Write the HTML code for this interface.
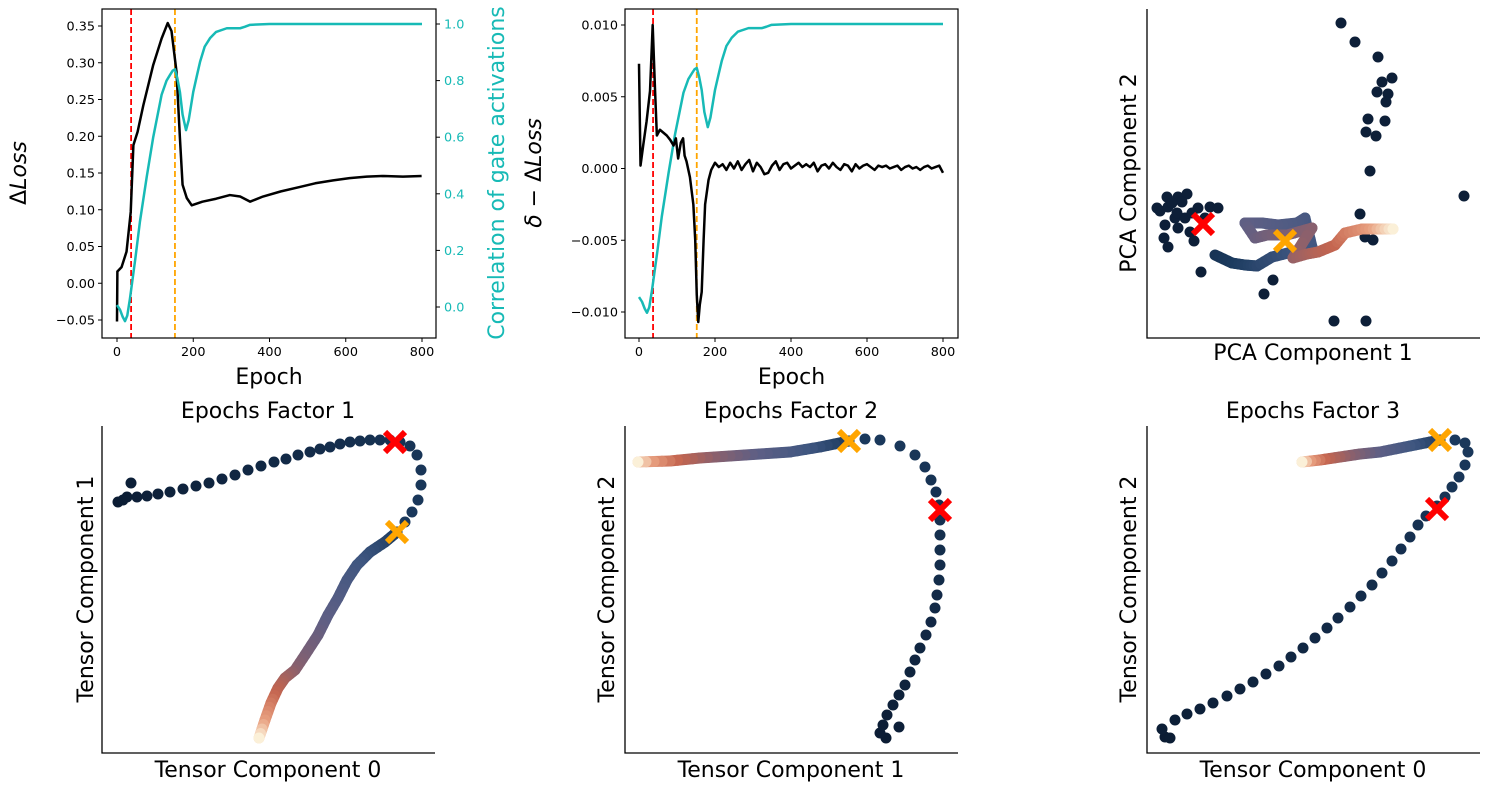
<!DOCTYPE html>
<html><head><meta charset="utf-8"><style>
html,body{margin:0;padding:0;background:#fff;}
svg{display:block;font-family:"DejaVu Sans","Liberation Sans",sans-serif;}
</style></head><body>
<svg id="fig" width="1490" height="789" viewBox="0 0 1490 789" xmlns="http://www.w3.org/2000/svg"></svg>
<script>
// ---------- Panel 1 data ----------
const lossEpochs=[0,1,12,25,36,43,54,69,95,117,133,143,156,165,172,183,196,224,260,296,323,349,383,430,480,520,567,610,655,700,750,799];
const lossValues=[-0.052,0.016,0.022,0.043,0.097,0.188,0.206,0.242,0.297,0.333,0.354,0.343,0.288,0.198,0.134,0.116,0.106,0.111,0.115,0.120,0.118,0.111,0.118,0.125,0.131,0.136,0.140,0.143,0.145,0.146,0.145,0.146];
const corrEpochs=[0,8,15,21,27,34,48,60,78,95,117,130,139,146,152,158,165,172,181,188,200,210,218,230,244,260,288,323,335,349,400,800];
const corrValues=[0.007,-0.01,-0.035,-0.05,-0.03,0.03,0.17,0.30,0.46,0.60,0.75,0.80,0.82,0.835,0.84,0.81,0.76,0.68,0.625,0.66,0.76,0.82,0.867,0.92,0.95,0.972,0.985,0.985,0.99,0.997,1.0,1.0];
const lossTicks=[-0.05,0.00,0.05,0.10,0.15,0.20,0.25,0.30,0.35];
const lossTickLabels=["\u22120.05","0.00","0.05","0.10","0.15","0.20","0.25","0.30","0.35"];
const corrTicks=[0.0,0.2,0.4,0.6,0.8,1.0];
const epochTicks=[0,200,400,600,800];
const redEpoch=37, orangeEpoch=152;
// ---------- Panel 2 data ----------
const deltaEpochsHead=[0,4,11,20,29,36,42,47,55,64,73,82,91,97,103,110,116,120,125,134,143,148,152,156,160,165,170,174,183,190,200];
const deltaValuesHead=[0.0073,0.0002,0.0016,0.0033,0.0054,0.0100,0.0056,0.0023,0.0027,0.0025,0.0023,0.0020,0.0016,0.0021,0.0007,0.0018,0.0021,0.0009,0.0005,-0.0006,-0.0025,-0.0050,-0.0088,-0.0107,-0.0095,-0.0086,-0.0050,-0.0025,-0.0008,-0.0001,0.0004];
const deltaValuesTail=[0.0001,0.0003,-0.0001,0.0004,0.0000,0.0005,-0.0001,0.0003,0.0006,-0.0002,0.0004,0.0001,-0.0004,-0.0003,0.0002,0.0005,-0.0001,0.0003,0.0004,0.0000,0.0002,0.0004,0.0001,0.0003,0.0001,0.0004,-0.0002,0.0002,0.0003,0.0000,0.0004,0.0001,-0.0001,0.0003,0.0002,-0.0002,0.0003,0.0000,0.0002,0.0003,0.0001,-0.0001,0.0002,0.0001,0.0002,0.0000,0.0001,0.0002,-0.0001,0.0001,0.0002,0.0000,0.0001,-0.0001,0.0001,0.0002,0.0000,0.0001,0.0002,-0.0003];
const deltaTicks=[-0.010,-0.005,0.000,0.005,0.010];
const deltaTickLabels=["\u22120.010","\u22120.005","0.000","0.005","0.010"];
// ---------- PCA data ----------
const pcaOutX=[194,208,231,245,235,230,241,239,221,238,219,229,223,317,213,218,226,54,126,117,187,219,20,31,40,13,21,35,51,63,71,28,38,18,31,43,17,21,47,58,25,45,10,30];
const pcaOutY=[315,296,281,260,256,246,244,236,219,217,206,202,167,142,124,101,98,66,58,44,17,17,141,141,144,127,131,136,130,131,130,120,120,113,110,106,100,91,97,120,135,125,130,125];
const pcaTrajX=[68,85,98,110,125,145,165,158,150,131,115,98,108,120,140,165,146,160,171,188,198,215,230,246];
const pcaTrajY=[83,75,73,72,81,86,91,120,115,113,115,115,100,103,103,110,80,84,86,93,105,109,109,109];
const pcaRed=[56,114], pcaOrange=[138,97];
// ---------- Factor 1 ----------
const f1X=[16,21,25,29,35,45,56,68,81,94,107,120,133,146,159,172,184,196,208,218,228,238,248,258,268,278,288,298,308,315,319,319,316,310,303,295,283,268,255,245,236,226,216,203,193,183,176,169,163,157];
const f1Y=[251,253,256,270,256,257,259,261,264,267,270,274,278,283,287,291,294,298,301,304,306,309,311,312,313,313,313,311,307,298,283,268,253,241,231,221,211,201,188,173,155,138,118,98,83,75,65,50,33,15];
const f1Split=35, f1Red=[293,311], f1Orange=[295,221];
// ---------- Factor 2 ----------
const f2X=[261,255,258,262,268,274,280,285,290,295,301,306,310,312,314,315,315,315,315,314,311,306,300,290,275,255,240,224,195,165,135,105,75,45,13];
const f2Y=[15,20,28,38,48,58,68,81,93,105,118,131,145,158,173,188,203,218,233,248,261,273,286,298,307,313,314,312,306,301,299,297,295,292,291];
const f2Split=27, f2Extra=[274,26], f2Red=[315,243], f2Orange=[224,312];
// ---------- Factor 3 ----------
const f3X=[18,23,15,28,40,53,66,80,93,106,119,132,144,156,168,180,191,203,214,225,235,245,254,263,271,279,290,298,305,312,318,321,318,308,293,273,253,233,213,193,173,155];
const f3Y=[16,15,24,33,39,44,50,57,64,71,79,87,96,105,115,125,135,146,157,168,180,192,204,216,228,237,247,256,266,276,288,301,310,313,313,309,305,301,299,296,293,291];
const f3Split=34, f3Red=[290,244], f3Orange=[293,313];

const NS="http://www.w3.org/2000/svg";
const svg=document.getElementById('fig');
const TF=22;
function mk(tag,attrs,parent,text){const e=document.createElementNS(NS,tag);for(const k in attrs)e.setAttribute(k,attrs[k]);if(text!==undefined)e.textContent=text;(parent||svg).appendChild(e);return e;}
function lin(d0,d1,r0,r1){return v=>r0+(v-d0)*(r1-r0)/(d1-d0);}
const stops=[[0,[11,28,51]],[0.19,[27,58,94]],[0.35,[62,86,128]],[0.55,[93,95,133]],[0.7,[134,96,111]],[0.85,[196,101,79]],[0.95,[232,160,128]],[1,[251,240,216]]];
function cmap(t){t=Math.max(0,Math.min(1,t));for(let i=1;i<stops.length;i++){if(t<=stops[i][0]){const a=stops[i-1],b=stops[i];const f=(t-a[0])/(b[0]-a[0]);const c=a[1].map((v,j)=>Math.round(v+(b[1][j]-v)*f));return `rgb(${c[0]},${c[1]},${c[2]})`;}}return 'rgb(251,240,216)';}

function text(x,y,s,opts,name){const t=mk('text',Object.assign({x:x,y:y,'font-size':12.8,fill:'#000'},opts||{}),svg,s);

return t;}

// ===== Panel 1 =====
(function(){
 const L=102,R=436,T=9,B=338;
 const g=mk('g',{});
 
 
 const x=lin(0,800,117,422), y=lin(0,0.35,283.25,26), y2=lin(0,1,307,24);
 const vr=mk('line',{x1:x(redEpoch),x2:x(redEpoch),y1:T,y2:B,stroke:'#ff0000','stroke-width':1.8,'stroke-dasharray':'6,3'},g);
 
 
 const vo=mk('line',{x1:x(orangeEpoch),x2:x(orangeEpoch),y1:T,y2:B,stroke:'#ffa500','stroke-width':1.8,'stroke-dasharray':'6,3'},g);
 
 
 const lp=mk('polyline',{points:lossEpochs.map((e,i)=>x(e)+','+y(lossValues[i])).join(' '),fill:'none',stroke:'#000','stroke-width':2.5,'stroke-linejoin':'round'},g);
 
 
 const cp=mk('polyline',{points:corrEpochs.map((e,i)=>x(e)+','+y2(corrValues[i])).join(' '),fill:'none',stroke:'#17bab6','stroke-width':2.5,'stroke-linejoin':'round'},g);
 
 
 const fr=mk('rect',{x:L,y:T,width:R-L,height:B-T,fill:'none',stroke:'#000','stroke-width':1.2},g);
 
 
 lossTicks.forEach((v,i)=>{mk('line',{x1:L-4,x2:L,y1:y(v),y2:y(v),stroke:'#000'},g);text(L-7,y(v)+4.5,lossTickLabels[i],{'text-anchor':'end'},'y-tick-label');});
 corrTicks.forEach(v=>{mk('line',{x1:R,x2:R+4,y1:y2(v),y2:y2(v),stroke:'#000'},g);text(R+8,y2(v)+4.5,v.toFixed(1),{fill:'#17bab6'},'y2-tick-label');});
 epochTicks.forEach(v=>{mk('line',{x1:x(v),x2:x(v),y1:B,y2:B+4,stroke:'#000'},g);text(x(v),B+18,String(v),{'text-anchor':'middle'},'x-tick-label');});
 text((L+R)/2,384,'Epoch',{'text-anchor':'middle','font-size':TF},'x-axis-title');
 text(0,0,'',{'font-size':TF,transform:'translate(26,173) rotate(-90)','text-anchor':'middle'},'y-axis-title').innerHTML='\u0394<tspan font-style="italic">Loss</tspan>';
 text(0,0,'Correlation of gate activations',{'font-size':TF,fill:'#17bab6',transform:'translate(504,173) rotate(-90)','text-anchor':'middle'},'y2-axis-title');
})();

// ===== Panel 2 =====
(function(){
 const L=625,R=958,T=9,B=338;
 const g=mk('g',{});
 
 
 const x=lin(0,800,639,943), y=lin(0,0.01,168.5,25), y2=lin(0,1,299,24);
 const ep=deltaEpochsHead.concat(deltaValuesTail.map((_,i)=>210+10*i));
 const vals=deltaValuesHead.concat(deltaValuesTail);
 const vr=mk('line',{x1:x(redEpoch),x2:x(redEpoch),y1:T,y2:B,stroke:'#ff0000','stroke-width':1.8,'stroke-dasharray':'6,3'},g);
 
 
 const vo=mk('line',{x1:x(orangeEpoch),x2:x(orangeEpoch),y1:T,y2:B,stroke:'#ffa500','stroke-width':1.8,'stroke-dasharray':'6,3'},g);
 
 
 const cp=mk('polyline',{points:corrEpochs.map((e,i)=>x(e)+','+y2(corrValues[i])).join(' '),fill:'none',stroke:'#17bab6','stroke-width':2.5,'stroke-linejoin':'round'},g);
 
 
 const lp=mk('polyline',{points:ep.map((e,i)=>x(e)+','+y(vals[i])).join(' '),fill:'none',stroke:'#000','stroke-width':2.5,'stroke-linejoin':'round'},g);
 
 
 const fr=mk('rect',{x:L,y:T,width:R-L,height:B-T,fill:'none',stroke:'#000','stroke-width':1.2},g);
 
 
 deltaTicks.forEach((v,i)=>{mk('line',{x1:L-4,x2:L,y1:y(v),y2:y(v),stroke:'#000'},g);text(L-7,y(v)+4.5,deltaTickLabels[i],{'text-anchor':'end'},'y-tick-label');});
 epochTicks.forEach(v=>{mk('line',{x1:x(v),x2:x(v),y1:B,y2:B+4,stroke:'#000'},g);text(x(v),B+18,String(v),{'text-anchor':'middle'},'x-tick-label');});
 text((L+R)/2,384,'Epoch',{'text-anchor':'middle','font-size':TF},'x-axis-title');
 const t=text(0,0,'',{'font-size':TF,transform:'translate(541,173) rotate(-90)','text-anchor':'middle'},'y-axis-title');
 t.innerHTML='<tspan font-style="italic">\u03b4</tspan> \u2212 \u0394<tspan font-style="italic">Loss</tspan>';
})();

// ===== scatter helpers =====
function axesLB(L,R,T,B,name){const p=mk('path',{d:`M${L},${T} V${B} H${R}`,fill:'none',stroke:'#000','stroke-width':1.3});
 
 }
function cross(cx,cy,color,name){const g=mk('g',{stroke:color,'stroke-width':6,'stroke-linecap':'butt'});
 
 
 mk('line',{x1:cx-10,y1:cy-10,x2:cx+10,y2:cy+10},g);mk('line',{x1:cx-10,y1:cy+10,x2:cx+10,y2:cy-10},g);}
function dot(cx,cy,color){const c=mk('circle',{cx:cx,cy:cy,r:5.5,fill:color});
 
 }
function band(pts,t0,t1){const n=pts.length-1;for(let i=0;i<n;i++){for(let k=0;k<4;k++){const a=k/4,b=(k+1)/4;const ta=t0+(t1-t0)*(i+a)/n;
 const s=mk('line',{x1:pts[i][0]+(pts[i+1][0]-pts[i][0])*a,y1:pts[i][1]+(pts[i+1][1]-pts[i][1])*a,x2:pts[i][0]+(pts[i+1][0]-pts[i][0])*b,y2:pts[i][1]+(pts[i+1][1]-pts[i][1])*b,stroke:cmap(ta),'stroke-width':11,'stroke-linecap':'round'});
 
 }}
 const e=pts[n];dot(e[0],e[1],cmap(t1));}
function trajPanel(L,B,xs,ys,split,red,orange,xl,yl,yx,title,extra){
 const sx=lin(0,333,L,L+333), sy=lin(0,327,B,B-327);
 axesLB(L,L+333,B-327,B,'axes-spines');
 for(let i=0;i<=split;i++)dot(sx(xs[i]),sy(ys[i]),cmap(0.19*i/split));
 if(extra)dot(sx(extra[0]),sy(extra[1]),cmap(0.02));
 const pts=[];for(let i=split;i<xs.length;i++)pts.push([sx(xs[i]),sy(ys[i])]);
 band(pts,0.19,1);
 cross(sx(red[0]),sy(red[1]),'#ff0000','red-cross-marker');
 cross(sx(orange[0]),sy(orange[1]),'#ffa500','orange-cross-marker');
 text(L+166,B+24,xl,{'text-anchor':'middle','font-size':TF},'x-axis-title');
 text(0,0,yl,{'font-size':TF,transform:`translate(${yx},${B-164}) rotate(-90)`,'text-anchor':'middle'},'y-axis-title');
 text(L+166,B-335,title,{'text-anchor':'middle','font-size':TF},'panel-title');
}

// ===== PCA panel =====
(function(){
 const L=1147,B=338;
 const sx=lin(0,333,L,L+333), sy=lin(0,329,B,B-329);
 axesLB(L,L+333,9,B,'axes-spines');
 pcaOutX.forEach((v,i)=>dot(sx(v),sy(pcaOutY[i]),cmap(0.02)));
 band(pcaTrajX.map((v,i)=>[sx(v),sy(pcaTrajY[i])]),0.15,1);
 cross(sx(pcaRed[0]),sy(pcaRed[1]),'#ff0000','red-cross-marker');
 cross(sx(pcaOrange[0]),sy(pcaOrange[1]),'#ffa500','orange-cross-marker');
 text(L+166,B+22,'PCA Component 1',{'text-anchor':'middle','font-size':TF},'x-axis-title');
 text(0,0,'PCA Component 2',{'font-size':TF,transform:`translate(1136,173) rotate(-90)`,'text-anchor':'middle'},'y-axis-title');
})();

trajPanel(102,753,f1X,f1Y,f1Split,f1Red,f1Orange,'Tensor Component 0','Tensor Component 1',93,'Epochs Factor 1');
trajPanel(625,753,f2X,f2Y,f2Split,f2Red,f2Orange,'Tensor Component 1','Tensor Component 2',614,'Epochs Factor 2',f2Extra);
trajPanel(1147,753,f3X,f3Y,f3Split,f3Red,f3Orange,'Tensor Component 0','Tensor Component 2',1136,'Epochs Factor 3');
</script>
</body></html>
